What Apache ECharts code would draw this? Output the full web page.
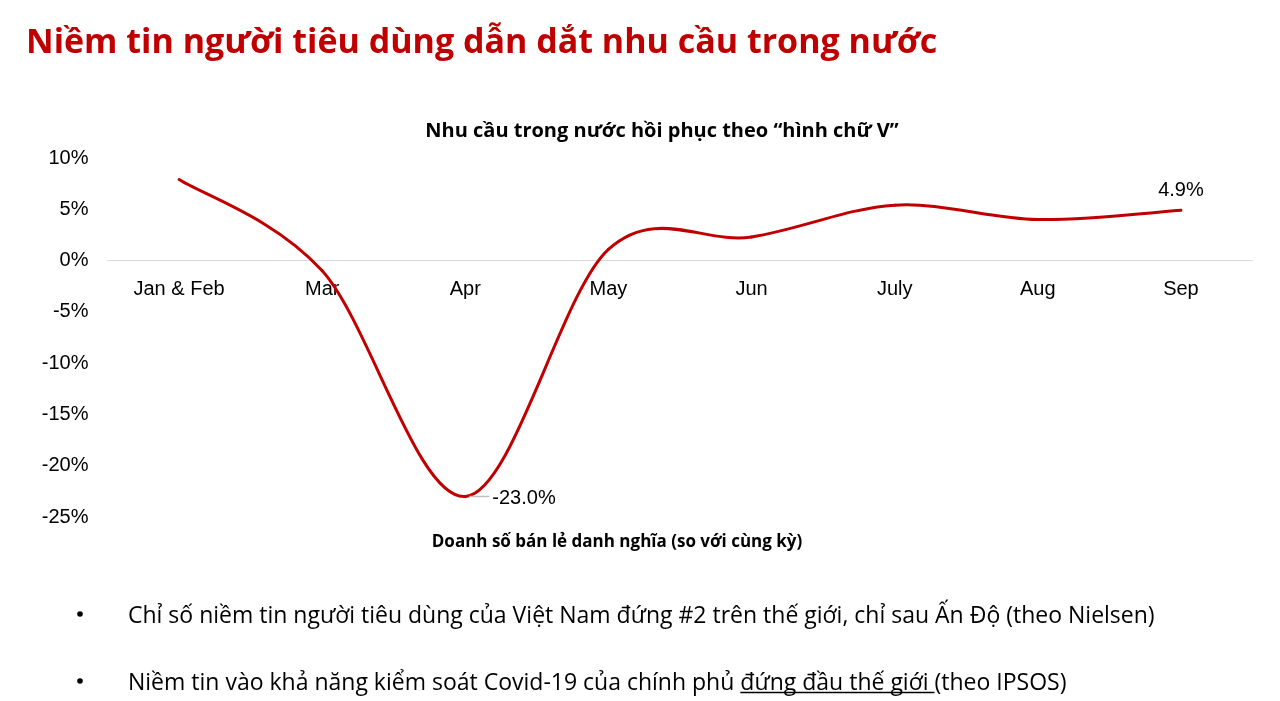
<!DOCTYPE html>
<html>
<head>
<meta charset="utf-8">
<script src="https://cdn.jsdelivr.net/npm/echarts@6/dist/echarts.min.js"></script>
<style>
  html, body { margin: 0; padding: 0; background: #fff; }
  #chart { width: 1280px; height: 701px; }
</style>
</head>
<body>
<div id="chart"></div>
<script>
// du lieu doc tu hinh
const months = ['Jan & Feb', 'Mar', 'Apr', 'May', 'Jun', 'July', 'Aug', 'Sep'];
const retailGrowth = [7.9, -1.0, -23.0, 1.1, 2.3, 5.4, 4.0, 4.9];
const labelled = { 'Apr': 'right', 'Sep': 'top' };
const yTicks = { min: -25, max: 10, step: 5 };
const bullets = [
    'Chỉ số niềm tin người tiêu dùng của Việt Nam đứng #2 trên thế giới, chỉ sau Ấn Độ (theo Nielsen)',
    ['Niềm tin vào khả năng kiểm soát Covid-19 của chính phủ ', 'đứng đầu thế giới ', '(theo IPSOS)']
];

const bodyFont = '23px "Open Sans"';
const ctx = document.createElement('canvas').getContext('2d');
ctx.font = bodyFont;
const preW = ctx.measureText(bullets[1][0]).width;
const ulW = ctx.measureText(bullets[1][1]).width;

const gridTop = 158, gridBottom = 184, chartH = 701;
// dich truc x len vi tri 0%
const zeroOffset = -(chartH - gridBottom - gridTop) * (0 - yTicks.min) / (yTicks.max - yTicks.min);

const labelFont = '20px "Liberation Sans"';

// duong cong kieu Excel (Catmull-Rom), moi doan tu diem i den i+1, kem nhan so lieu
function renderSegment(params, api) {
    let n = retailGrowth.length;
    let i = params.dataIndex;
    let p = k => {
        k = Math.max(0, Math.min(n - 1, k));
        return api.coord([k, retailGrowth[k]]);
    };
    let children = [];
    if (i < n - 1) {
        let p0 = p(i - 1), p1 = p(i), p2 = p(i + 1), p3 = p(i + 2);
        children.push({
            type: 'bezierCurve',
            shape: {
                x1: p1[0], y1: p1[1],
                cpx1: p1[0] + (p2[0] - p0[0]) / 6, cpy1: p1[1] + (p2[1] - p0[1]) / 6,
                cpx2: p2[0] - (p3[0] - p1[0]) / 6, cpy2: p2[1] - (p3[1] - p1[1]) / 6,
                x2: p2[0], y2: p2[1]
            },
            style: { stroke: '#C00000', lineWidth: 3, fill: null, lineCap: 'round' }
        });
    }
    let pos = labelled[months[i]];
    if (pos) {
        let pt = p(i);
        let txt = retailGrowth[i].toFixed(1) + '%';
        if (pos === 'right') {
            children.push({
                type: 'line',
                shape: { x1: pt[0] + 4, y1: pt[1], x2: pt[0] + 24, y2: pt[1] },
                style: { stroke: '#bfbfbf', lineWidth: 1.5 }
            });
            children.push({
                type: 'text',
                x: pt[0] + 27, y: pt[1] + 2,
                style: { text: txt, font: labelFont, fill: '#000', align: 'left', verticalAlign: 'middle' }
            });
        } else {
            children.push({
                type: 'text',
                x: pt[0], y: pt[1] - 10,
                style: { text: txt, font: labelFont, fill: '#000', align: 'center', verticalAlign: 'bottom' }
            });
        }
    }
    return { type: 'group', children: children };
}

let myChart = echarts.init(document.getElementById('chart'));

let option = {
    animation: false,
    title: [
        {
            text: 'Niềm tin người tiêu dùng dẫn dắt nhu cầu trong nước',
            left: 21,
            top: 21,
            textStyle: { color: '#C00000', fontSize: 34, fontWeight: 'bold', fontFamily: 'Open Sans' }
        },
        {
            text: 'Nhu cầu trong nước hồi phục theo “hình chữ V”',
            left: 657,
            textAlign: 'center',
            top: 116,
            textStyle: { color: '#000', fontSize: 20, fontWeight: 'bold', fontFamily: 'Open Sans' }
        },
        {
            text: 'Doanh số bán lẻ danh nghĩa (so với cùng kỳ)',
            left: 612,
            textAlign: 'center',
            top: 529,
            textStyle: { color: '#000', fontSize: 17, fontWeight: 'bold', fontFamily: 'Open Sans' }
        }
    ],
    grid: { left: 107.5, right: 27.5, top: gridTop, bottom: gridBottom },
    xAxis: {
        type: 'category',
        data: months,
        boundaryGap: true,
        position: 'bottom',
        offset: zeroOffset,
        axisLine: { onZero: false, lineStyle: { color: '#d9d9d9', width: 1 } },
        axisTick: { show: false },
        axisLabel: { color: '#000', fontSize: 20, fontFamily: 'Liberation Sans', margin: 19 }
    },
    yAxis: {
        type: 'value',
        min: yTicks.min,
        max: yTicks.max,
        interval: yTicks.step,
        splitLine: { show: false },
        axisLine: { show: false },
        axisTick: { show: false },
        axisLabel: { color: '#000', fontSize: 20, fontFamily: 'Liberation Sans', margin: 19, formatter: '{value}%' }
    },
    series: [
        {
            type: 'custom',
            renderItem: renderSegment,
            encode: { x: 0, y: 1 },
            data: retailGrowth.map((v, i) => [i, v]),
            z: 2
        }
    ],
    graphic: [
        { type: 'circle', shape: { cx: 80, cy: 614, r: 2.8 }, style: { fill: '#000' } },
        { type: 'text', left: 128, top: 605, style: { text: bullets[0], font: bodyFont, fill: '#000' } },
        { type: 'circle', shape: { cx: 80, cy: 681, r: 2.8 }, style: { fill: '#000' } },
        { type: 'text', left: 128, top: 672, style: { text: bullets[1].join(''), font: bodyFont, fill: '#000' } },
        { type: 'line', shape: { x1: 128 + preW, y1: 692.5, x2: 128 + preW + ulW, y2: 692.5 }, style: { stroke: '#000', lineWidth: 1.5 } }
    ]
};

myChart.setOption(option);
</script>
</body>
</html>
